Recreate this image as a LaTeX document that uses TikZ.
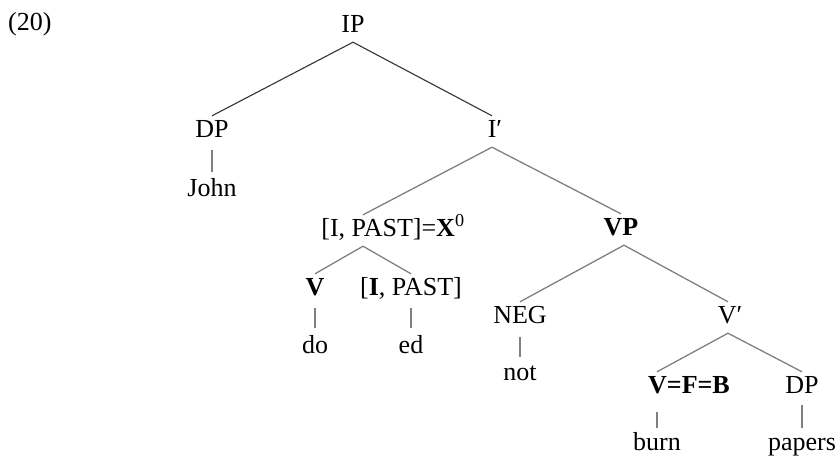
\documentclass[tikz,border=0pt]{standalone}
\usepackage{fontspec}
\setmainfont{Liberation Serif}
\begin{document}
\begin{tikzpicture}[x=1pt,y=-1pt,
  lbl/.style={font=\fontsize{26}{30}\selectfont, text height=17pt, text depth=6pt, inner sep=4pt, anchor=base},
  edge/.style={draw=black!50, line width=1.3pt},
  topedge/.style={draw=black!80, line width=1.1pt}]
\useasboundingbox (0,0) rectangle (838,456);
\node[lbl, anchor=base west] (ex) at (4,30) {(20)};
\node[lbl] (IP) at (353,32) {IP};
\node[lbl] (DP1) at (212,137) {DP};
\node[lbl] (John) at (212,196) {John};
\node[lbl] (Ibar) at (495,137) {I′};
\node[lbl] (X0) at (393,236) {[I, PAST]=\textbf{X}\textsuperscript{0}};
\node[lbl] (VP) at (621,235) {\textbf{VP}};
\node[lbl] (V) at (315,295) {\textbf{V}};
\node[lbl] (IPAST) at (411,295) {[\textbf{I}, PAST]};
\node[lbl] (NEG) at (520,323) {NEG};
\node[lbl] (Vbar) at (730,323) {V′};
\node[lbl] (do) at (315,353) {do};
\node[lbl] (ed) at (411,353) {ed};
\node[lbl] (not) at (520,380) {not};
\node[lbl] (VFB) at (689,393) {\textbf{V=F=B}};
\node[lbl] (DP2) at (802,393) {DP};
\node[lbl] (burn) at (657,450) {burn};
\node[lbl] (papers) at (802,450) {papers};
\draw[topedge] (IP.south) -- (DP1.north);
\draw[topedge] (IP.south) -- ([xshift=-3pt]Ibar.north);
\draw[edge] ([xshift=-3pt]Ibar.south) -- ([xshift=-30pt]X0.north);
\draw[edge] ([xshift=-3pt]Ibar.south) -- (VP.north);
\draw[edge] ([xshift=-30pt]X0.south) -- (V.north);
\draw[edge] ([xshift=-30pt]X0.south) -- (IPAST.north);
\draw[edge] ([xshift=3pt]VP.south) -- (NEG.north);
\draw[edge] ([xshift=3pt]VP.south) -- ([xshift=-2pt]Vbar.north);
\draw[edge] ([xshift=-2pt]Vbar.south) -- ([xshift=-32pt]VFB.north);
\draw[edge] ([xshift=-2pt]Vbar.south) -- (DP2.north);
\draw[edge, shorten <=3pt, shorten >=3pt] (DP1.south) -- (John.north);
\draw[edge, shorten <=3pt, shorten >=4pt] (V.south) -- (do.north);
\draw[edge, shorten <=3pt, shorten >=4pt] (IPAST.south) -- (ed.north);
\draw[edge, shorten <=4pt, shorten >=2pt] (NEG.south) -- (not.north);
\draw[edge, shorten <=9pt, shorten >=1pt] ([xshift=-32pt]VFB.south) -- (burn.north);
\draw[edge, shorten <=2pt, shorten >=1pt] (DP2.south) -- (papers.north);
\end{tikzpicture}
\end{document}
